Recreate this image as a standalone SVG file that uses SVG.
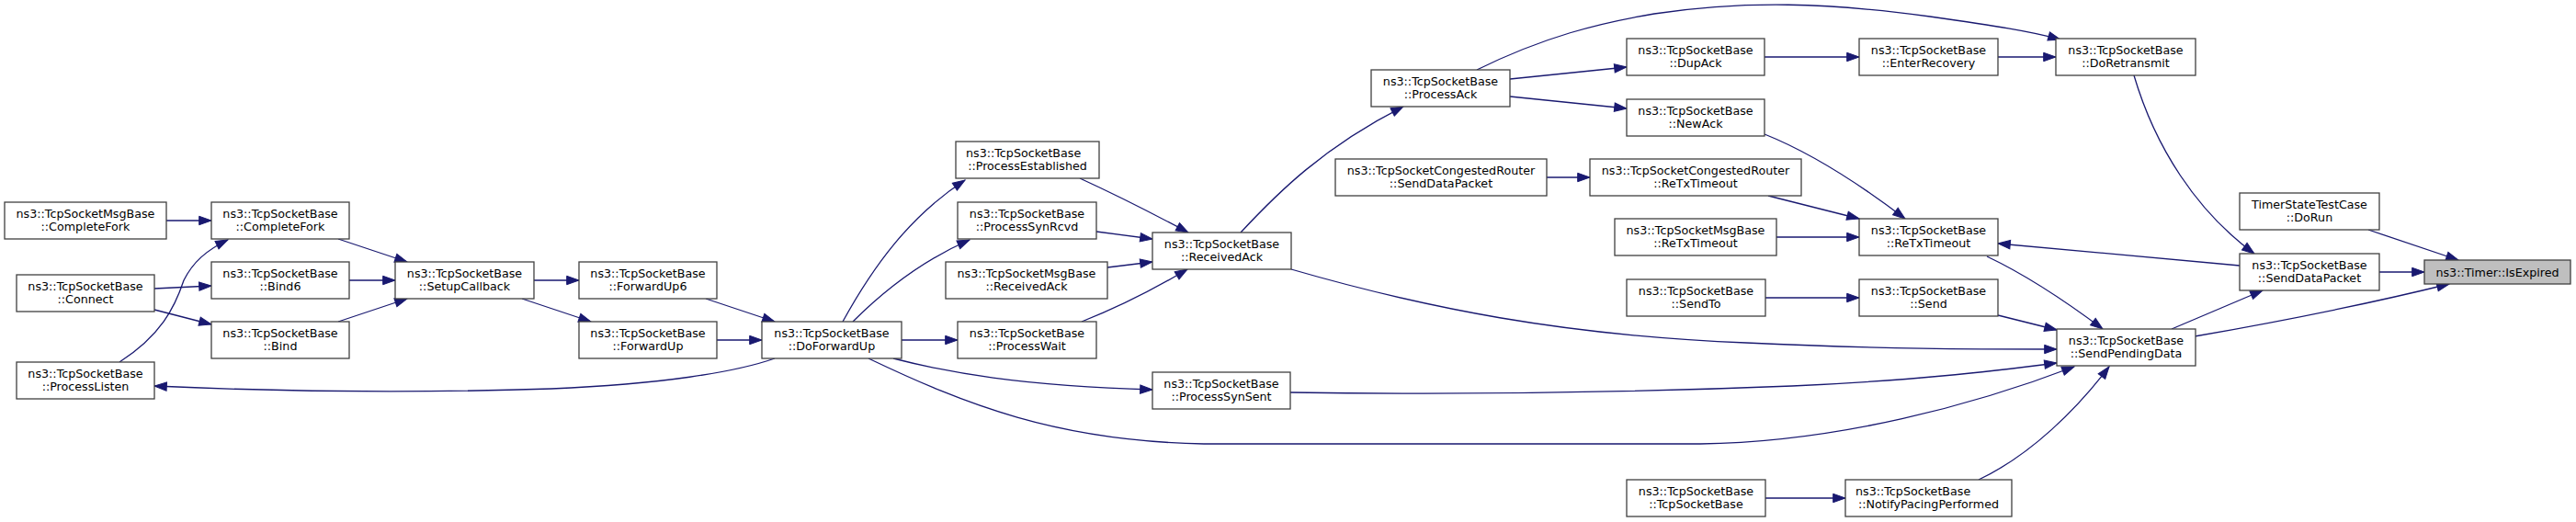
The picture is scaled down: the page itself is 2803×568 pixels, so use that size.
<svg xmlns="http://www.w3.org/2000/svg" width="2803" height="568" viewBox="0 0 2803 568">
<style>
.n rect{fill:#ffffff;stroke:#404040;stroke-width:1.3}
.n.root rect{fill:#bfbfbf}
text{font-family:"DejaVu Sans","Liberation Sans",sans-serif;font-size:12.7px;fill:#000;text-anchor:middle}
text.l{text-anchor:start}
.e path{fill:none;stroke:#191970;stroke-width:1.3;marker-end:url(#a)}
</style>
<defs>
<marker id="a" markerWidth="16" markerHeight="12" refX="13.3" refY="5" orient="auto" markerUnits="userSpaceOnUse" overflow="visible">
<path d="M0,0.3 L13.3,5 L0,9.7 Z" fill="#191970" stroke="#191970" stroke-width="1"/>
</marker>
</defs>
<rect width="2803" height="568" fill="#ffffff"/>
<g id="edges" class="e">
<path d="M181,240 L230,240"/>
<path d="M130,394 C175,365 190,335 200,305 C210,285 225,272 248,261"/>
<path d="M168,314 L230,311"/>
<path d="M168,337 L230,353"/>
<path d="M368,260 L443,285"/>
<path d="M380,305 L430,305"/>
<path d="M368,350 L443,325"/>
<path d="M581,305 L630,305"/>
<path d="M568,325 L643,350"/>
<path d="M768,325 L843,350"/>
<path d="M780,370 L829,370"/>
<path d="M843,390 C800,405 720,418 600,423 C450,428 300,426 168,420"/>
<path d="M917,350 C950,290 990,235 1050,196"/>
<path d="M928,350 C960,318 1000,285 1055,261"/>
<path d="M981,370 L1042,370"/>
<path d="M972,390 C1030,405 1110,420 1254,424"/>
<path d="M1175,194 C1210,210 1250,230 1293,253"/>
<path d="M1193,252 L1254,260"/>
<path d="M1205,291 L1254,285"/>
<path d="M1177,350 C1215,335 1255,315 1292,293"/>
<path d="M1350,253 C1390,210 1440,160 1527,116"/>
<path d="M1405,293 C1550,335 1700,365 1900,373 C2050,380 2150,380 2238,380"/>
<path d="M1643,86 L1770,73"/>
<path d="M1643,105 L1770,118"/>
<path d="M1607,76 C1680,40 1740,25 1800,15 C1900,0 1990,3 2100,18 C2170,28 2210,34 2242,43"/>
<path d="M1920,62 L2023,62"/>
<path d="M2174,62 L2237,62"/>
<path d="M1920,146 C1960,162 2010,190 2073,238"/>
<path d="M1683,193 L1730,193"/>
<path d="M1924,213 L2023,238"/>
<path d="M1933,258 L2023,258"/>
<path d="M2437,289 L2174,265"/>
<path d="M2162,279 C2200,297 2240,322 2288,358"/>
<path d="M1921,324 L2023,324"/>
<path d="M2174,343 L2238,359"/>
<path d="M1404,427 C1600,430 1800,426 1950,420 C2080,414 2160,405 2238,395"/>
<path d="M945,390 C1050,440 1150,480 1310,483 L1850,483 C2000,481 2150,440 2257,399"/>
<path d="M2363,358 L2462,316"/>
<path d="M2322,82 C2345,160 2390,230 2453,276"/>
<path d="M2589,296 L2638,296"/>
<path d="M2577,250 L2675,283"/>
<path d="M2388,366 C2480,350 2580,330 2665,309"/>
<path d="M2153,522 C2210,495 2260,445 2295,399"/>
<path d="M1921,542 L2008,542"/>
</g>
<g id="n1" class="n"><rect x="5" y="220" width="176" height="40"/><text x="93" y="236.5">ns3::TcpSocketMsgBase</text><text x="93" y="250.5">::CompleteFork</text></g>
<g id="n2" class="n"><rect x="230" y="220" width="150" height="40"/><text x="305" y="236.5">ns3::TcpSocketBase</text><text x="305" y="250.5">::CompleteFork</text></g>
<g id="n3" class="n"><rect x="18" y="299" width="150" height="40"/><text x="93" y="315.5">ns3::TcpSocketBase</text><text x="93" y="329.5">::Connect</text></g>
<g id="n4" class="n"><rect x="230" y="285" width="150" height="40"/><text x="305" y="301.5">ns3::TcpSocketBase</text><text x="305" y="315.5">::Bind6</text></g>
<g id="n5" class="n"><rect x="230" y="350" width="150" height="40"/><text x="305" y="366.5">ns3::TcpSocketBase</text><text x="305" y="380.5">::Bind</text></g>
<g id="n6" class="n"><rect x="18" y="394" width="150" height="40"/><text x="93" y="410.5">ns3::TcpSocketBase</text><text x="93" y="424.5">::ProcessListen</text></g>
<g id="n7" class="n"><rect x="430" y="285" width="151" height="40"/><text x="505.5" y="301.5">ns3::TcpSocketBase</text><text x="505.5" y="315.5">::SetupCallback</text></g>
<g id="n8" class="n"><rect x="630" y="285" width="150" height="40"/><text x="705" y="301.5">ns3::TcpSocketBase</text><text x="705" y="315.5">::ForwardUp6</text></g>
<g id="n9" class="n"><rect x="630" y="350" width="150" height="40"/><text x="705" y="366.5">ns3::TcpSocketBase</text><text x="705" y="380.5">::ForwardUp</text></g>
<g id="n10" class="n"><rect x="829" y="350" width="152" height="40"/><text x="905" y="366.5">ns3::TcpSocketBase</text><text x="905" y="380.5">::DoForwardUp</text></g>
<g id="n11" class="n"><rect x="1040" y="154" width="156" height="40"/><text class="l" x="1051" y="170.5">ns3::TcpSocketBase</text><text x="1118" y="184.5">::ProcessEstablished</text></g>
<g id="n12" class="n"><rect x="1042" y="220" width="151" height="40"/><text x="1117.5" y="236.5">ns3::TcpSocketBase</text><text x="1117.5" y="250.5">::ProcessSynRcvd</text></g>
<g id="n13" class="n"><rect x="1029" y="285" width="176" height="40"/><text x="1117" y="301.5">ns3::TcpSocketMsgBase</text><text x="1117" y="315.5">::ReceivedAck</text></g>
<g id="n14" class="n"><rect x="1042" y="350" width="151" height="40"/><text x="1117.5" y="366.5">ns3::TcpSocketBase</text><text x="1117.5" y="380.5">::ProcessWait</text></g>
<g id="n15" class="n"><rect x="1254" y="253" width="151" height="40"/><text x="1329.5" y="269.5">ns3::TcpSocketBase</text><text x="1329.5" y="283.5">::ReceivedAck</text></g>
<g id="n16" class="n"><rect x="1254" y="405" width="150" height="40"/><text x="1329" y="421.5">ns3::TcpSocketBase</text><text x="1329" y="435.5">::ProcessSynSent</text></g>
<g id="n17" class="n"><rect x="1492" y="76" width="151" height="40"/><text x="1567.5" y="92.5">ns3::TcpSocketBase</text><text x="1567.5" y="106.5">::ProcessAck</text></g>
<g id="n18" class="n"><rect x="1453" y="173" width="230" height="40"/><text x="1568" y="189.5">ns3::TcpSocketCongestedRouter</text><text x="1568" y="203.5">::SendDataPacket</text></g>
<g id="n19" class="n"><rect x="1770" y="42" width="150" height="40"/><text x="1845" y="58.5">ns3::TcpSocketBase</text><text x="1845" y="72.5">::DupAck</text></g>
<g id="n20" class="n"><rect x="1770" y="108" width="150" height="40"/><text x="1845" y="124.5">ns3::TcpSocketBase</text><text x="1845" y="138.5">::NewAck</text></g>
<g id="n21" class="n"><rect x="1730" y="173" width="230" height="40"/><text x="1845" y="189.5">ns3::TcpSocketCongestedRouter</text><text x="1845" y="203.5">::ReTxTimeout</text></g>
<g id="n22" class="n"><rect x="1757" y="238" width="176" height="40"/><text x="1845" y="254.5">ns3::TcpSocketMsgBase</text><text x="1845" y="268.5">::ReTxTimeout</text></g>
<g id="n23" class="n"><rect x="1770" y="304" width="151" height="40"/><text x="1845.5" y="320.5">ns3::TcpSocketBase</text><text x="1845.5" y="334.5">::SendTo</text></g>
<g id="n24" class="n"><rect x="1770" y="522" width="151" height="40"/><text x="1845.5" y="538.5">ns3::TcpSocketBase</text><text x="1845.5" y="552.5">::TcpSocketBase</text></g>
<g id="n25" class="n"><rect x="2023" y="42" width="151" height="40"/><text x="2098.5" y="58.5">ns3::TcpSocketBase</text><text x="2098.5" y="72.5">::EnterRecovery</text></g>
<g id="n26" class="n"><rect x="2023" y="238" width="151" height="40"/><text x="2098.5" y="254.5">ns3::TcpSocketBase</text><text x="2098.5" y="268.5">::ReTxTimeout</text></g>
<g id="n27" class="n"><rect x="2023" y="304" width="151" height="40"/><text x="2098.5" y="320.5">ns3::TcpSocketBase</text><text x="2098.5" y="334.5">::Send</text></g>
<g id="n28" class="n"><rect x="2008" y="522" width="181" height="40"/><text class="l" x="2019" y="538.5">ns3::TcpSocketBase</text><text x="2098.5" y="552.5">::NotifyPacingPerformed</text></g>
<g id="n29" class="n"><rect x="2237" y="42" width="152" height="40"/><text x="2313" y="58.5">ns3::TcpSocketBase</text><text x="2313" y="72.5">::DoRetransmit</text></g>
<g id="n30" class="n"><rect x="2238" y="358" width="151" height="40"/><text x="2313.5" y="374.5">ns3::TcpSocketBase</text><text x="2313.5" y="388.5">::SendPendingData</text></g>
<g id="n31" class="n"><rect x="2437" y="210" width="152" height="40"/><text x="2513" y="226.5">TimerStateTestCase</text><text x="2513" y="240.5">::DoRun</text></g>
<g id="n32" class="n"><rect x="2437" y="276" width="152" height="40"/><text x="2513" y="292.5">ns3::TcpSocketBase</text><text x="2513" y="306.5">::SendDataPacket</text></g>
<g id="n33" class="n root"><rect x="2638" y="283" width="159" height="26"/><text x="2717.5" y="300.5">ns3::Timer::IsExpired</text></g>
</svg>
